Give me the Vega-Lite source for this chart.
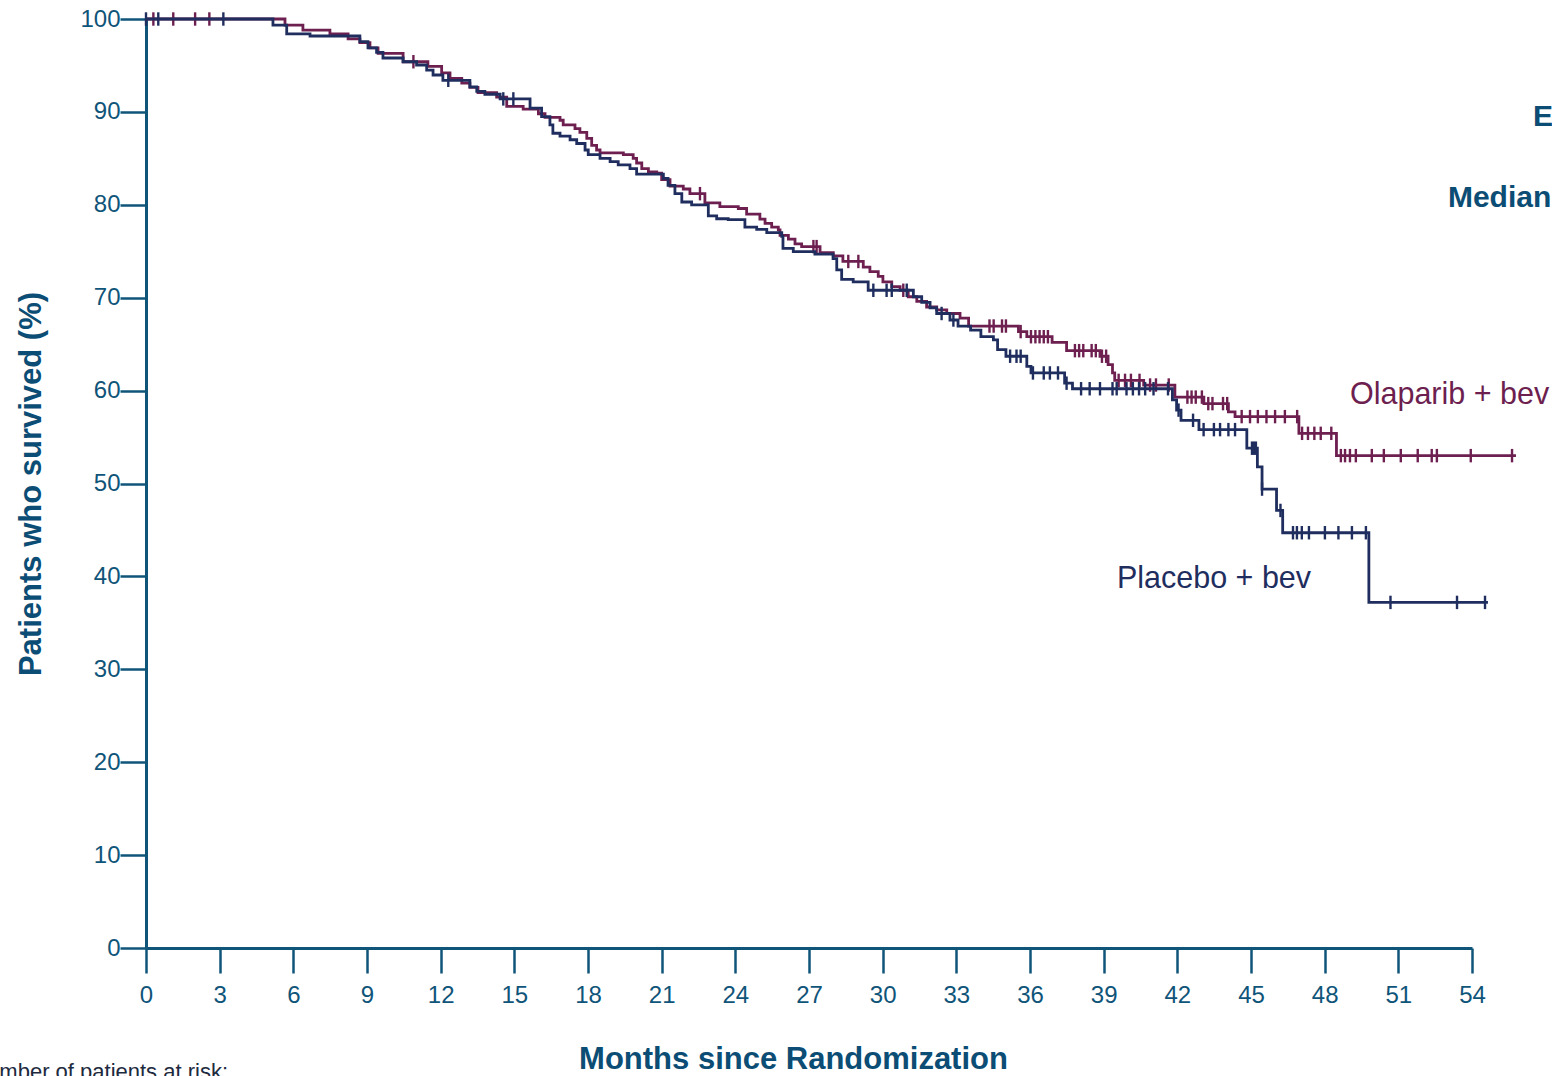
{
  "$schema": "https://vega.github.io/schema/vega-lite/v6.json",
  "width": 1326,
  "height": 929,
  "autosize": {"type": "none"},
  "padding": {"left": 146, "top": 19, "right": 80, "bottom": 128},
  "background": "white",
  "config": {
    "view": {"stroke": null},
    "font": "Liberation Sans"
  },
  "datasets": {
    "km": [
      {"arm":"Olaparib + bev","t":0,"s":100},{"arm":"Olaparib + bev","t":5.66,"s":99.35},{"arm":"Olaparib + bev","t":6.39,"s":98.8},{"arm":"Olaparib + bev","t":7.49,"s":98.4},{"arm":"Olaparib + bev","t":8.23,"s":97.85},{"arm":"Olaparib + bev","t":8.71,"s":97.45},{"arm":"Olaparib + bev","t":9.12,"s":96.9},{"arm":"Olaparib + bev","t":9.45,"s":96.3},{"arm":"Olaparib + bev","t":10.47,"s":95.4},{"arm":"Olaparib + bev","t":11.48,"s":94.9},{"arm":"Olaparib + bev","t":12.04,"s":94.2},{"arm":"Olaparib + bev","t":12.38,"s":93.6},{"arm":"Olaparib + bev","t":12.86,"s":93.1},{"arm":"Olaparib + bev","t":13.19,"s":92.65},{"arm":"Olaparib + bev","t":13.52,"s":92.07},{"arm":"Olaparib + bev","t":14.28,"s":91.6},{"arm":"Olaparib + bev","t":14.69,"s":90.6},{"arm":"Olaparib + bev","t":15.36,"s":90.3},{"arm":"Olaparib + bev","t":15.98,"s":89.8},{"arm":"Olaparib + bev","t":16.25,"s":89.4},{"arm":"Olaparib + bev","t":16.86,"s":89.1},{"arm":"Olaparib + bev","t":16.99,"s":88.6},{"arm":"Olaparib + bev","t":17.47,"s":88.2},{"arm":"Olaparib + bev","t":17.67,"s":87.8},{"arm":"Olaparib + bev","t":17.95,"s":87.15},{"arm":"Olaparib + bev","t":18.15,"s":86.4},{"arm":"Olaparib + bev","t":18.35,"s":85.9},{"arm":"Olaparib + bev","t":18.49,"s":85.6},{"arm":"Olaparib + bev","t":19.44,"s":85.4},{"arm":"Olaparib + bev","t":19.84,"s":85.0},{"arm":"Olaparib + bev","t":19.98,"s":84.5},{"arm":"Olaparib + bev","t":20.19,"s":83.9},{"arm":"Olaparib + bev","t":20.46,"s":83.55},{"arm":"Olaparib + bev","t":20.8,"s":83.4},{"arm":"Olaparib + bev","t":21.0,"s":82.7},{"arm":"Olaparib + bev","t":21.34,"s":82.0},{"arm":"Olaparib + bev","t":21.88,"s":81.7},{"arm":"Olaparib + bev","t":22.15,"s":81.2},{"arm":"Olaparib + bev","t":22.76,"s":80.2},{"arm":"Olaparib + bev","t":23.37,"s":79.8},{"arm":"Olaparib + bev","t":24.12,"s":79.6},{"arm":"Olaparib + bev","t":24.46,"s":79.0},{"arm":"Olaparib + bev","t":25.0,"s":78.45},{"arm":"Olaparib + bev","t":25.21,"s":78.0},{"arm":"Olaparib + bev","t":25.48,"s":77.6},{"arm":"Olaparib + bev","t":25.75,"s":77.3},{"arm":"Olaparib + bev","t":25.82,"s":76.7},{"arm":"Olaparib + bev","t":26.16,"s":76.3},{"arm":"Olaparib + bev","t":26.43,"s":75.8},{"arm":"Olaparib + bev","t":26.7,"s":75.5},{"arm":"Olaparib + bev","t":27.45,"s":74.85},{"arm":"Olaparib + bev","t":27.99,"s":74.5},{"arm":"Olaparib + bev","t":28.38,"s":73.9},{"arm":"Olaparib + bev","t":29.21,"s":73.3},{"arm":"Olaparib + bev","t":29.48,"s":72.8},{"arm":"Olaparib + bev","t":29.82,"s":72.3},{"arm":"Olaparib + bev","t":30.01,"s":71.7},{"arm":"Olaparib + bev","t":30.37,"s":71.2},{"arm":"Olaparib + bev","t":30.71,"s":70.8},{"arm":"Olaparib + bev","t":31.04,"s":70.1},{"arm":"Olaparib + bev","t":31.39,"s":69.6},{"arm":"Olaparib + bev","t":31.79,"s":69.0},{"arm":"Olaparib + bev","t":32.2,"s":68.7},{"arm":"Olaparib + bev","t":32.61,"s":68.3},{"arm":"Olaparib + bev","t":33.15,"s":67.8},{"arm":"Olaparib + bev","t":33.5,"s":66.95},{"arm":"Olaparib + bev","t":35.53,"s":66.35},{"arm":"Olaparib + bev","t":35.87,"s":65.8},{"arm":"Olaparib + bev","t":36.9,"s":65.2},{"arm":"Olaparib + bev","t":37.49,"s":64.3},{"arm":"Olaparib + bev","t":38.85,"s":63.7},{"arm":"Olaparib + bev","t":39.18,"s":62.8},{"arm":"Olaparib + bev","t":39.36,"s":61.9},{"arm":"Olaparib + bev","t":39.45,"s":61.1},{"arm":"Olaparib + bev","t":40.63,"s":60.6},{"arm":"Olaparib + bev","t":41.9,"s":59.3},{"arm":"Olaparib + bev","t":43.08,"s":58.6},{"arm":"Olaparib + bev","t":44.08,"s":57.7},{"arm":"Olaparib + bev","t":44.35,"s":57.2},{"arm":"Olaparib + bev","t":46.95,"s":55.4},{"arm":"Olaparib + bev","t":48.48,"s":53.0},{"arm":"Olaparib + bev","t":55.79,"s":53.0},
      {"arm":"Placebo + bev","t":0,"s":100},{"arm":"Placebo + bev","t":5.17,"s":99.35},{"arm":"Placebo + bev","t":5.73,"s":98.4},{"arm":"Placebo + bev","t":6.68,"s":98.17},{"arm":"Placebo + bev","t":8.71,"s":97.56},{"arm":"Placebo + bev","t":9.04,"s":96.9},{"arm":"Placebo + bev","t":9.39,"s":96.4},{"arm":"Placebo + bev","t":9.65,"s":95.8},{"arm":"Placebo + bev","t":10.47,"s":95.4},{"arm":"Placebo + bev","t":11.02,"s":95.05},{"arm":"Placebo + bev","t":11.43,"s":94.5},{"arm":"Placebo + bev","t":11.69,"s":93.97},{"arm":"Placebo + bev","t":12.09,"s":93.4},{"arm":"Placebo + bev","t":13.19,"s":92.7},{"arm":"Placebo + bev","t":13.47,"s":92.2},{"arm":"Placebo + bev","t":13.8,"s":91.9},{"arm":"Placebo + bev","t":14.42,"s":91.4},{"arm":"Placebo + bev","t":15.64,"s":90.4},{"arm":"Placebo + bev","t":16.11,"s":89.5},{"arm":"Placebo + bev","t":16.45,"s":88.6},{"arm":"Placebo + bev","t":16.57,"s":87.7},{"arm":"Placebo + bev","t":16.86,"s":87.4},{"arm":"Placebo + bev","t":17.27,"s":87.0},{"arm":"Placebo + bev","t":17.54,"s":86.6},{"arm":"Placebo + bev","t":17.88,"s":85.9},{"arm":"Placebo + bev","t":18.01,"s":85.4},{"arm":"Placebo + bev","t":18.49,"s":85.0},{"arm":"Placebo + bev","t":18.9,"s":84.65},{"arm":"Placebo + bev","t":19.23,"s":84.3},{"arm":"Placebo + bev","t":19.71,"s":83.9},{"arm":"Placebo + bev","t":19.98,"s":83.3},{"arm":"Placebo + bev","t":21.07,"s":82.85},{"arm":"Placebo + bev","t":21.26,"s":82.1},{"arm":"Placebo + bev","t":21.54,"s":81.2},{"arm":"Placebo + bev","t":21.82,"s":80.3},{"arm":"Placebo + bev","t":22.22,"s":80.0},{"arm":"Placebo + bev","t":22.9,"s":78.8},{"arm":"Placebo + bev","t":23.24,"s":78.5},{"arm":"Placebo + bev","t":23.71,"s":78.4},{"arm":"Placebo + bev","t":24.39,"s":77.6},{"arm":"Placebo + bev","t":24.87,"s":77.35},{"arm":"Placebo + bev","t":25.28,"s":77.0},{"arm":"Placebo + bev","t":25.89,"s":76.6},{"arm":"Placebo + bev","t":25.94,"s":75.3},{"arm":"Placebo + bev","t":26.36,"s":74.95},{"arm":"Placebo + bev","t":27.24,"s":74.7},{"arm":"Placebo + bev","t":27.98,"s":74.2},{"arm":"Placebo + bev","t":28.13,"s":73.0},{"arm":"Placebo + bev","t":28.33,"s":71.97},{"arm":"Placebo + bev","t":28.8,"s":71.7},{"arm":"Placebo + bev","t":29.41,"s":70.8},{"arm":"Placebo + bev","t":31.25,"s":70.1},{"arm":"Placebo + bev","t":31.59,"s":69.5},{"arm":"Placebo + bev","t":31.93,"s":68.9},{"arm":"Placebo + bev","t":32.2,"s":68.3},{"arm":"Placebo + bev","t":32.74,"s":67.6},{"arm":"Placebo + bev","t":33.07,"s":66.95},{"arm":"Placebo + bev","t":33.58,"s":66.5},{"arm":"Placebo + bev","t":34.0,"s":65.8},{"arm":"Placebo + bev","t":34.51,"s":65.45},{"arm":"Placebo + bev","t":34.68,"s":64.4},{"arm":"Placebo + bev","t":35.02,"s":63.7},{"arm":"Placebo + bev","t":35.87,"s":62.6},{"arm":"Placebo + bev","t":36.04,"s":61.9},{"arm":"Placebo + bev","t":37.41,"s":60.8},{"arm":"Placebo + bev","t":37.73,"s":60.2},{"arm":"Placebo + bev","t":41.8,"s":59.0},{"arm":"Placebo + bev","t":41.97,"s":57.9},{"arm":"Placebo + bev","t":42.15,"s":56.8},{"arm":"Placebo + bev","t":42.88,"s":55.8},{"arm":"Placebo + bev","t":44.83,"s":53.8},{"arm":"Placebo + bev","t":45.26,"s":51.8},{"arm":"Placebo + bev","t":45.45,"s":49.4},{"arm":"Placebo + bev","t":46.04,"s":47.1},{"arm":"Placebo + bev","t":46.29,"s":44.7},{"arm":"Placebo + bev","t":49.8,"s":37.2},{"arm":"Placebo + bev","t":54.65,"s":37.2}
    ],
    "cens": [
      {"arm":"Olaparib + bev","t":0.3,"s":100},{"arm":"Olaparib + bev","t":1.11,"s":100},{"arm":"Olaparib + bev","t":2.0,"s":100},{"arm":"Olaparib + bev","t":2.58,"s":100},{"arm":"Olaparib + bev","t":10.89,"s":95.4},{"arm":"Olaparib + bev","t":22.56,"s":81.2},{"arm":"Olaparib + bev","t":27.18,"s":75.5},{"arm":"Olaparib + bev","t":27.31,"s":75.5},{"arm":"Olaparib + bev","t":28.6,"s":73.9},{"arm":"Olaparib + bev","t":29.01,"s":73.9},{"arm":"Olaparib + bev","t":30.84,"s":70.8},{"arm":"Olaparib + bev","t":34.35,"s":66.95},{"arm":"Olaparib + bev","t":34.52,"s":66.95},{"arm":"Olaparib + bev","t":34.86,"s":66.95},{"arm":"Olaparib + bev","t":35.02,"s":66.95},{"arm":"Olaparib + bev","t":35.62,"s":66.35},{"arm":"Olaparib + bev","t":36.04,"s":65.8},{"arm":"Olaparib + bev","t":36.22,"s":65.8},{"arm":"Olaparib + bev","t":36.39,"s":65.8},{"arm":"Olaparib + bev","t":36.56,"s":65.8},{"arm":"Olaparib + bev","t":36.73,"s":65.8},{"arm":"Olaparib + bev","t":37.83,"s":64.3},{"arm":"Olaparib + bev","t":38.0,"s":64.3},{"arm":"Olaparib + bev","t":38.17,"s":64.3},{"arm":"Olaparib + bev","t":38.51,"s":64.3},{"arm":"Olaparib + bev","t":38.68,"s":64.3},{"arm":"Olaparib + bev","t":38.93,"s":63.7},{"arm":"Olaparib + bev","t":39.1,"s":63.7},{"arm":"Olaparib + bev","t":39.61,"s":61.1},{"arm":"Olaparib + bev","t":39.87,"s":61.1},{"arm":"Olaparib + bev","t":40.11,"s":61.1},{"arm":"Olaparib + bev","t":40.46,"s":61.1},{"arm":"Olaparib + bev","t":40.89,"s":60.6},{"arm":"Olaparib + bev","t":41.13,"s":60.6},{"arm":"Olaparib + bev","t":41.65,"s":60.6},{"arm":"Olaparib + bev","t":42.41,"s":59.3},{"arm":"Olaparib + bev","t":42.58,"s":59.3},{"arm":"Olaparib + bev","t":42.75,"s":59.3},{"arm":"Olaparib + bev","t":43.0,"s":59.3},{"arm":"Olaparib + bev","t":43.26,"s":58.6},{"arm":"Olaparib + bev","t":43.43,"s":58.6},{"arm":"Olaparib + bev","t":43.86,"s":58.6},{"arm":"Olaparib + bev","t":44.03,"s":58.6},{"arm":"Olaparib + bev","t":44.62,"s":57.2},{"arm":"Olaparib + bev","t":44.96,"s":57.2},{"arm":"Olaparib + bev","t":45.28,"s":57.2},{"arm":"Olaparib + bev","t":45.63,"s":57.2},{"arm":"Olaparib + bev","t":45.98,"s":57.2},{"arm":"Olaparib + bev","t":46.38,"s":57.2},{"arm":"Olaparib + bev","t":46.88,"s":57.2},{"arm":"Olaparib + bev","t":47.08,"s":55.4},{"arm":"Olaparib + bev","t":47.32,"s":55.4},{"arm":"Olaparib + bev","t":47.58,"s":55.4},{"arm":"Olaparib + bev","t":47.84,"s":55.4},{"arm":"Olaparib + bev","t":48.27,"s":55.4},{"arm":"Olaparib + bev","t":48.66,"s":53.0},{"arm":"Olaparib + bev","t":48.83,"s":53.0},{"arm":"Olaparib + bev","t":49.03,"s":53.0},{"arm":"Olaparib + bev","t":49.27,"s":53.0},{"arm":"Olaparib + bev","t":49.92,"s":53.0},{"arm":"Olaparib + bev","t":50.41,"s":53.0},{"arm":"Olaparib + bev","t":51.1,"s":53.0},{"arm":"Olaparib + bev","t":51.79,"s":53.0},{"arm":"Olaparib + bev","t":52.36,"s":53.0},{"arm":"Olaparib + bev","t":52.57,"s":53.0},{"arm":"Olaparib + bev","t":53.95,"s":53.0},{"arm":"Olaparib + bev","t":55.63,"s":53.0},
      {"arm":"Placebo + bev","t":0.0,"s":100},{"arm":"Placebo + bev","t":0.5,"s":100},{"arm":"Placebo + bev","t":3.15,"s":100},{"arm":"Placebo + bev","t":12.31,"s":93.4},{"arm":"Placebo + bev","t":14.55,"s":91.4},{"arm":"Placebo + bev","t":14.96,"s":91.4},{"arm":"Placebo + bev","t":29.62,"s":70.8},{"arm":"Placebo + bev","t":30.16,"s":70.8},{"arm":"Placebo + bev","t":30.37,"s":70.8},{"arm":"Placebo + bev","t":30.98,"s":70.8},{"arm":"Placebo + bev","t":32.4,"s":68.3},{"arm":"Placebo + bev","t":32.88,"s":67.6},{"arm":"Placebo + bev","t":35.19,"s":63.7},{"arm":"Placebo + bev","t":35.45,"s":63.7},{"arm":"Placebo + bev","t":35.62,"s":63.7},{"arm":"Placebo + bev","t":36.12,"s":61.9},{"arm":"Placebo + bev","t":36.56,"s":61.9},{"arm":"Placebo + bev","t":36.81,"s":61.9},{"arm":"Placebo + bev","t":37.14,"s":61.9},{"arm":"Placebo + bev","t":37.49,"s":60.8},{"arm":"Placebo + bev","t":38.08,"s":60.2},{"arm":"Placebo + bev","t":38.43,"s":60.2},{"arm":"Placebo + bev","t":38.85,"s":60.2},{"arm":"Placebo + bev","t":39.36,"s":60.2},{"arm":"Placebo + bev","t":39.53,"s":60.2},{"arm":"Placebo + bev","t":39.93,"s":60.2},{"arm":"Placebo + bev","t":40.19,"s":60.2},{"arm":"Placebo + bev","t":40.44,"s":60.2},{"arm":"Placebo + bev","t":40.69,"s":60.2},{"arm":"Placebo + bev","t":41.03,"s":60.2},{"arm":"Placebo + bev","t":41.62,"s":60.2},{"arm":"Placebo + bev","t":42.05,"s":57.9},{"arm":"Placebo + bev","t":42.64,"s":56.8},{"arm":"Placebo + bev","t":43.07,"s":55.8},{"arm":"Placebo + bev","t":43.49,"s":55.8},{"arm":"Placebo + bev","t":43.74,"s":55.8},{"arm":"Placebo + bev","t":44.08,"s":55.8},{"arm":"Placebo + bev","t":44.35,"s":55.8},{"arm":"Placebo + bev","t":45.04,"s":53.8},{"arm":"Placebo + bev","t":45.12,"s":53.8},{"arm":"Placebo + bev","t":45.2,"s":53.8},{"arm":"Placebo + bev","t":45.45,"s":49.4},{"arm":"Placebo + bev","t":46.2,"s":47.1},{"arm":"Placebo + bev","t":46.71,"s":44.7},{"arm":"Placebo + bev","t":46.87,"s":44.7},{"arm":"Placebo + bev","t":47.07,"s":44.7},{"arm":"Placebo + bev","t":47.36,"s":44.7},{"arm":"Placebo + bev","t":48.01,"s":44.7},{"arm":"Placebo + bev","t":48.56,"s":44.7},{"arm":"Placebo + bev","t":49.11,"s":44.7},{"arm":"Placebo + bev","t":49.68,"s":44.7},{"arm":"Placebo + bev","t":50.68,"s":37.2},{"arm":"Placebo + bev","t":53.39,"s":37.2},{"arm":"Placebo + bev","t":54.53,"s":37.2}
    ],
    "armlabels": [
      {"arm":"Olaparib + bev","t":49.03,"s":58.6},
      {"arm":"Placebo + bev","t":39.54,"s":38.7}
    ],
    "legendbits": [
      {"text":"E","t":56.48,"s":88.5},
      {"text":"Median","t":53.02,"s":79.8}
    ],
    "risk": [
      {"text":"Number of patients at risk:","t":3.34,"s":-14.1}
    ]
  },
  "layer": [
    {
      "data": {"name": "km"},
      "transform": [{"filter": "datum.arm === 'Olaparib + bev'"}],
      "mark": {"type": "line", "interpolate": "step-after", "strokeWidth": 2.8},
      "encoding": {
        "x": {
          "field": "t", "type": "quantitative",
          "scale": {"domain": [0, 54], "nice": false, "zero": false},
          "axis": {
            "values": [0,3,6,9,12,15,18,21,24,27,30,33,36,39,42,45,48,51,54],
            "title": "Months since Randomization",
            "titleFont": "Liberation Sans",
            "titleFontSize": 31,
            "titleFontWeight": "bold",
            "titleColor": "#0b4d74",
            "titlePadding": 37,
            "titleX": 647,
            "labelFont": "Liberation Sans",
            "labelFontSize": 24,
            "labelColor": "#0f5479",
            "labelPadding": 10,
            "labelFlush": false,
            "labelOverlap": false,
            "tickSize": 25,
            "tickWidth": 2.5,
            "tickColor": "#0f5479",
            "domainColor": "#0f5479",
            "domainWidth": 3,
            "grid": false
          }
        },
        "y": {
          "field": "s", "type": "quantitative",
          "scale": {"domain": [0, 100], "nice": false},
          "axis": {
            "values": [0,10,20,30,40,50,60,70,80,90,100],
            "title": "Patients who survived (%)",
            "titleFont": "Liberation Sans",
            "titleFontSize": 31,
            "titleFontWeight": "bold",
            "titleColor": "#0b4d74",
            "titlePadding": 32,
            "labelFont": "Liberation Sans",
            "labelFontSize": 24,
            "labelColor": "#0f5479",
            "labelPadding": 0,
            "labelFlush": false,
            "labelOverlap": false,
            "tickSize": 26,
            "tickWidth": 2.5,
            "tickColor": "#0f5479",
            "domainColor": "#0f5479",
            "domainWidth": 3,
            "grid": false
          }
        },
        "color": {
          "field": "arm", "type": "nominal",
          "scale": {"domain": ["Olaparib + bev", "Placebo + bev"], "range": ["#6d1f50", "#1f2e5e"]},
          "legend": null
        }
      }
    },
    {
      "data": {"name": "cens"},
      "transform": [{"filter": "datum.arm === 'Olaparib + bev'"}],
      "mark": {"type": "point", "shape": "M0,-1L0,1", "filled": false, "strokeWidth": 2.4, "size": 180, "opacity": 1},
      "encoding": {
        "x": {"field": "t", "type": "quantitative"},
        "y": {"field": "s", "type": "quantitative"},
        "color": {"field": "arm", "type": "nominal", "legend": null}
      }
    },
    {
      "data": {"name": "km"},
      "transform": [{"filter": "datum.arm === 'Placebo + bev'"}],
      "mark": {"type": "line", "interpolate": "step-after", "strokeWidth": 2.8},
      "encoding": {
        "x": {"field": "t", "type": "quantitative"},
        "y": {"field": "s", "type": "quantitative"},
        "color": {"field": "arm", "type": "nominal", "legend": null}
      }
    },
    {
      "data": {"name": "cens"},
      "transform": [{"filter": "datum.arm === 'Placebo + bev'"}],
      "mark": {"type": "point", "shape": "M0,-1L0,1", "filled": false, "strokeWidth": 2.4, "size": 180, "opacity": 1},
      "encoding": {
        "x": {"field": "t", "type": "quantitative"},
        "y": {"field": "s", "type": "quantitative"},
        "color": {"field": "arm", "type": "nominal", "legend": null}
      }
    },
    {
      "data": {"name": "armlabels"},
      "mark": {"type": "text", "align": "left", "baseline": "alphabetic", "font": "Liberation Sans", "fontSize": 30.5},
      "encoding": {
        "x": {"field": "t", "type": "quantitative"},
        "y": {"field": "s", "type": "quantitative"},
        "text": {"field": "arm"},
        "color": {"field": "arm", "type": "nominal", "legend": null}
      }
    },
    {
      "data": {"name": "legendbits"},
      "mark": {"type": "text", "align": "left", "baseline": "alphabetic", "font": "Liberation Sans", "fontSize": 30, "fontWeight": "bold", "color": "#0b4d74"},
      "encoding": {
        "x": {"field": "t", "type": "quantitative"},
        "y": {"field": "s", "type": "quantitative"},
        "text": {"field": "text"}
      }
    },
    {
      "data": {"name": "risk"},
      "mark": {"type": "text", "align": "right", "baseline": "alphabetic", "font": "Liberation Sans", "fontSize": 22, "color": "#1d2a40"},
      "encoding": {
        "x": {"field": "t", "type": "quantitative"},
        "y": {"field": "s", "type": "quantitative"},
        "text": {"field": "text"}
      }
    }
  ]
}
